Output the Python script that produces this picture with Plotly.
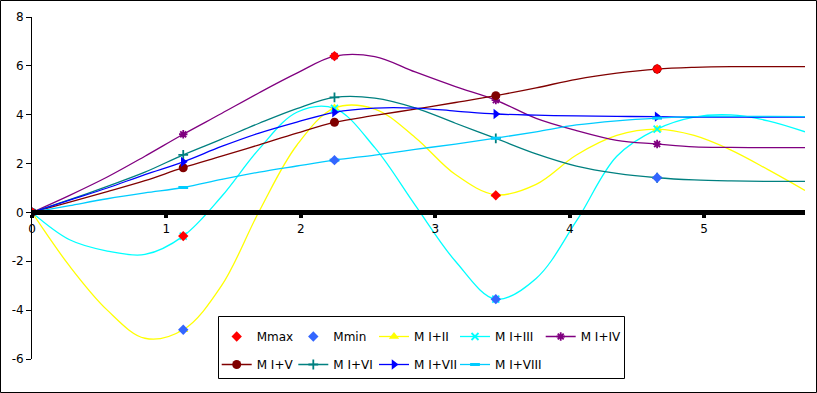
import plotly.graph_objects as go

# ---------------- data ----------------
x_line = [0, 0.28, 0.56, 0.84, 1.125, 1.41, 1.69, 1.97, 2.25, 2.55, 2.85,
          3.15, 3.45, 3.75, 4.05, 4.35, 4.65, 4.925, 5.2, 5.475, 5.75]
mark_idx = [0, 4, 8, 12, 16]          # points of each line that carry a marker
x_marks = [0, 1.125, 2.25, 3.45, 4.65]

m_I_II = [0, -2.2, -4.0, -5.15, -4.8, -3.0, 0.05, 2.75, 4.27, 4.23, 3.07,
          1.55, 0.72, 1.15, 2.35, 3.15, 3.41, 3.15, 2.55, 1.75, 0.9]
m_I_III = [0, -1.12, -1.58, -1.72, -0.97, 0.65, 2.6, 4.1, 4.26, 2.65, 0.3,
           -2.0, -3.55, -2.7, -0.35, 2.3, 3.41, 3.9, 3.99, 3.75, 3.3]
m_I_IV = [0, 0.7, 1.45, 2.3, 3.2, 4.05, 4.9, 5.7, 6.4, 6.38, 5.75,
          5.15, 4.6, 3.85, 3.35, 2.95, 2.8, 2.68, 2.66, 2.65, 2.65]
m_I_V = [0, 0.42, 0.85, 1.3, 1.83, 2.3, 2.77, 3.25, 3.69, 3.97, 4.23,
         4.5, 4.78, 5.1, 5.45, 5.7, 5.87, 5.94, 5.97, 5.97, 5.97]
m_I_VI = [0, 0.52, 1.07, 1.65, 2.36, 3.0, 3.65, 4.25, 4.71, 4.68, 4.28,
          3.65, 3.03, 2.4, 1.9, 1.6, 1.42, 1.33, 1.29, 1.27, 1.27]
m_I_VII = [0, 0.5, 1.0, 1.55, 2.07, 2.7, 3.25, 3.7, 4.1, 4.27, 4.27,
           4.15, 4.03, 3.98, 3.95, 3.93, 3.92, 3.9, 3.9, 3.9, 3.9]
m_I_VIII = [0, 0.28, 0.56, 0.8, 1.02, 1.35, 1.65, 1.9, 2.14, 2.35, 2.58,
            2.8, 3.04, 3.3, 3.58, 3.75, 3.86, 3.92, 3.93, 3.93, 3.92]

mmax = [0, -0.97, 6.4, 0.7, 5.87]
mmin = [0, -4.8, 2.14, -3.55, 1.42]

x_ticks = [0, 1, 2, 3, 4, 5]
x_tick_labels = ["0", "1", "2", "3", "4", "5"]
y_ticks = [-6, -4, -2, 0, 2, 4, 6, 8]
y_tick_labels = ["-6", "-4", "-2", "0", "2", "4", "6", "8"]

# name, values, line colour, marker symbol, marker colour, marker size, legend id, rank
line_series = [
    ("M I+II", m_I_II, "#FFFF00", "triangle-up", "#FFFF00", 9, "legend3", 1),
    ("M I+III", m_I_III, "#00FFFF", "x-thin", "#00FFFF", 7, "legend4", 1),
    ("M I+IV", m_I_IV, "#800080", "asterisk", "#800080", 7, "legend5", 1),
    ("M I+V", m_I_V, "#800000", "circle", "#800000", 9, "legend", 2),
    ("M I+VI", m_I_VI, "#008080", "cross-thin", "#008080", 7, "legend2", 2),
    ("M I+VII", m_I_VII, "#0000FF", "triangle-right", "#0000FF", 9, "legend3", 2),
    ("M I+VIII", m_I_VIII, "#00CCFF", "line-ew", "#00CCFF", 7, "legend4", 2),
]

FONT = "DejaVu Sans"
fig = go.Figure()


def marker_dict(sym, col, size):
    d = dict(symbol=sym, color=col, size=size)
    if sym in ("x-thin", "asterisk", "cross-thin", "line-ew"):
        d["line"] = dict(color=col, width=3 if sym == "line-ew" else 1.8)
    else:
        d["line"] = dict(width=0)
    return d


for name, vals, lc, sym, mc, ms, leg, rank in line_series:
    fig.add_trace(go.Scatter(x=x_line, y=vals, mode="lines",
                             line=dict(color=lc, width=1.3, shape="spline", smoothing=1),
                             showlegend=False, hoverinfo="skip"))
for name, vals, lc, sym, mc, ms, leg, rank in line_series:
    fig.add_trace(go.Scatter(x=[x_line[i] for i in mark_idx],
                             y=[vals[i] for i in mark_idx], mode="markers",
                             marker=marker_dict(sym, mc, ms),
                             showlegend=False, hoverinfo="skip"))
# legend entries (line + marker)
for name, vals, lc, sym, mc, ms, leg, rank in line_series:
    fig.add_trace(go.Scatter(x=[None], y=[None], mode="lines+markers", name=name,
                             line=dict(color=lc, width=1.3),
                             marker=marker_dict(sym, mc, ms),
                             legend=leg, legendrank=rank, legendgroup=name))

fig.add_trace(go.Scatter(x=x_marks, y=mmin, mode="markers", name="Mmin",
                         marker=dict(symbol="diamond", color="#3366FF", size=8),
                         legend="legend2", legendrank=1, legendgroup="Mmin"))
fig.add_trace(go.Scatter(x=x_marks, y=mmax, mode="markers", name="Mmax",
                         marker=dict(symbol="diamond", color="#FF0000", size=8),
                         legend="legend", legendrank=1, legendgroup="Mmax"))

W, H = 817, 393
L, R, T, B = 32, 12, 17, 34
pw, ph = W - L - R, H - T - B


def px_x(p):
    return (p - L) / pw


def px_y(p):
    return (H - B - p) / ph


leg_common = dict(orientation="v", xanchor="left", yanchor="top",
                  bgcolor="rgba(0,0,0,0)", borderwidth=0, tracegroupgap=9,
                  font=dict(family=FONT, size=12, color="black"))
col_starts = [216.7, 293.3, 374, 455, 540.7]
leg_top = px_y(322)
layout_legends = {}
for i, cs in enumerate(col_starts):
    key = "legend" if i == 0 else f"legend{i+1}"
    layout_legends[key] = dict(leg_common, x=px_x(cs), y=leg_top)

fig.update_layout(
    width=W, height=H,
    margin=dict(l=L, r=R, t=T, b=B, autoexpand=False),
    paper_bgcolor="white", plot_bgcolor="white",
    font=dict(family=FONT, size=12, color="black"),
    showlegend=True,
    **layout_legends,
    xaxis=dict(range=[0, 5.75], anchor="free", position=6 / 14,
               showline=True, linewidth=5, linecolor="black",
               ticks="outside", ticklen=3, tickwidth=4, tickcolor="black",
               tickmode="array", tickvals=x_ticks, ticktext=x_tick_labels,
               showgrid=False, zeroline=False, layer="above traces",
               automargin=False,
               tickfont=dict(family=FONT, size=12, color="black")),
    yaxis=dict(range=[-6, 8], showline=True, linewidth=1, linecolor="black",
               ticks="outside", ticklen=5, tickwidth=1, tickcolor="black",
               tickmode="array", tickvals=y_ticks, ticktext=y_tick_labels,
               showgrid=False, zeroline=False, automargin=False,
               tickfont=dict(family=FONT, size=12, color="black")),
    shapes=[
        dict(type="rect", xref="paper", yref="paper",
             x0=px_x(218.5), x1=px_x(624.5), y0=px_y(378.5), y1=px_y(316.5),
             line=dict(color="black", width=1), fillcolor="rgba(0,0,0,0)"),
        dict(type="rect", xref="paper", yref="paper",
             x0=px_x(0.5), x1=px_x(816.5), y0=px_y(392.5), y1=px_y(0.5),
             line=dict(color="black", width=1), fillcolor="rgba(0,0,0,0)"),
    ],
)

fig.write_html(
    "out.html",
    config={"displayModeBar": False},
    post_script="document.body.style.margin='0';document.body.style.overflow='hidden';",
)
